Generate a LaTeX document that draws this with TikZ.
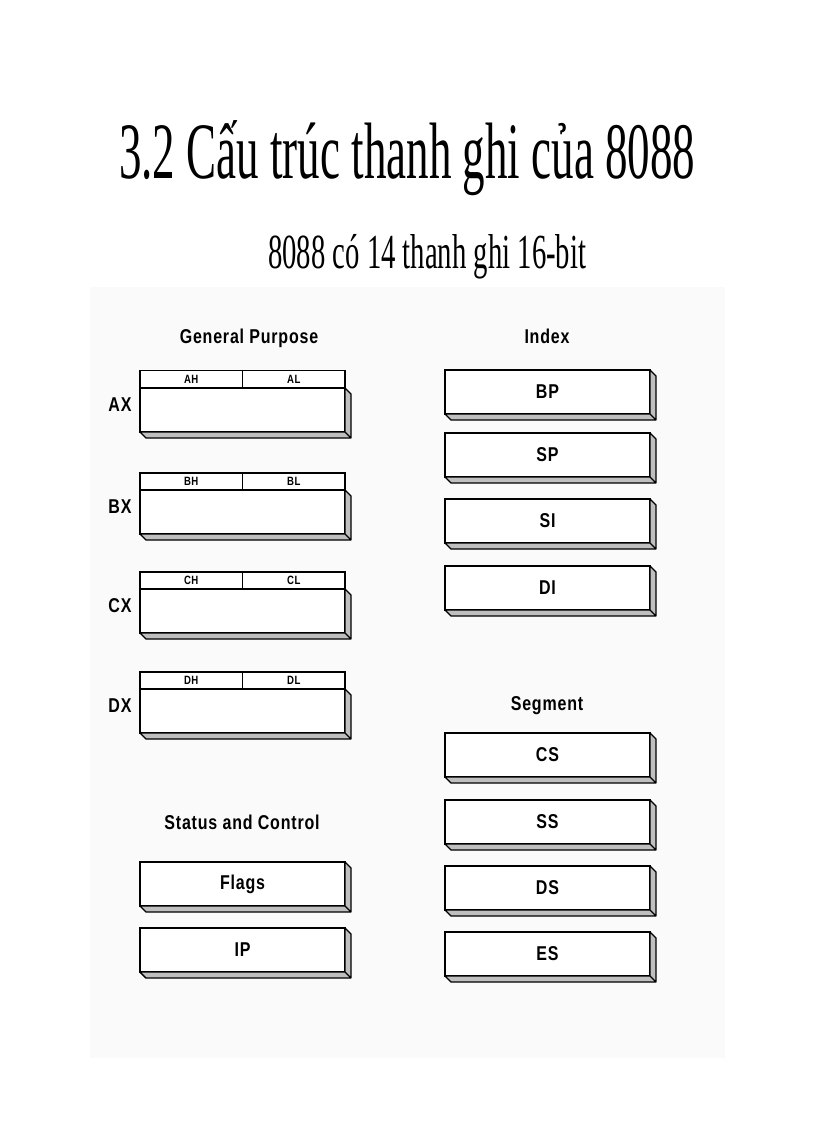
\documentclass[tikz,border=0pt]{standalone}
\usepackage{graphicx}
\usepackage{fontspec}
\setmainfont{Liberation Serif}
\newfontfamily\regfont[FakeStretch=0.8,LetterSpace=4]{Liberation Sans}

\tikzset{
  regbox/.style={draw, line width=1.8pt, fill=white, inner sep=0pt, outer sep=0pt,
    minimum width=205pt, minimum height=44pt,
    font=\regfont\bfseries\fontsize{20}{20}\selectfont},
  halfbox/.style={draw, line width=1.6pt, fill=white, inner sep=0pt, outer sep=0pt,
    minimum width=102.5pt, minimum height=17pt, text depth=0pt, yshift=0pt,
    font=\regfont\bfseries\fontsize{12}{12}\selectfont},
  regshade/.style={draw, line width=1.4pt, fill=black!25, line join=round},
  heading/.style={anchor=base, inner sep=0pt,
    font=\regfont\bfseries\fontsize{20}{20}\selectfont},
  reglabel/.style={anchor=base, inner sep=0pt,
    font=\regfont\bfseries\fontsize{20}{20}\selectfont}
}

\begin{document}
\begin{tikzpicture}[x=1pt, y=-1pt]
      \useasboundingbox (0,0) rectangle (816,1123);
      \fill[white] (0,0) rectangle (816,1123);

      % Title
      \node[anchor=base west, inner sep=0pt] (title) at (119,179)
        {\resizebox{576pt}{\height}{\fontsize{80}{80}\selectfont 3.2 Cấu trúc thanh ghi của 8088}};
      \node[anchor=base west, inner sep=0pt] (subtitle) at (268,268)
        {\resizebox{318pt}{\height}{\fontsize{49}{49}\selectfont 8088 có 14 thanh ghi 16-bit}};

      % Panel
      \fill[black!2] (90,287) rectangle (725,1058);

      % Headings
      \node[heading] (gp)  at (249, 343) {General Purpose};
      \node[heading] (idx) at (547, 343) {Index};
      \node[heading] (seg) at (547, 710) {Segment};
      \node[heading] (sc)  at (242, 829) {Status and Control};

      % General purpose registers
      \node[halfbox] (ah) at (191.25, 379)   {AH};
      \node[halfbox] (al) at (293.75, 379)   {AL};
      \node[regbox]  (ax) at (242.5, 410)    {};
      \node[reglabel] (axl) at (120, 411.5)  {AX};

      \node[halfbox] (bh) at (191.25, 481.5) {BH};
      \node[halfbox] (bl) at (293.75, 481.5) {BL};
      \node[regbox]  (bx) at (242.5, 512)    {};
      \node[reglabel] (bxl) at (120, 513.5)  {BX};

      \node[halfbox] (ch) at (191.25, 580.5) {CH};
      \node[halfbox] (cl) at (293.75, 580.5) {CL};
      \node[regbox]  (cx) at (242.5, 611)    {};
      \node[reglabel] (cxl) at (120, 612.5)  {CX};

      \node[halfbox] (dh) at (191.25, 680.5) {DH};
      \node[halfbox] (dl) at (293.75, 680.5) {DL};
      \node[regbox]  (dx) at (242.5, 711)    {};
      \node[reglabel] (dxl) at (120, 712.5)  {DX};

      % Status and control
      \node[regbox] (flags) at (242.5, 884) {Flags};
      \node[regbox] (ip)    at (242.5, 950) {IP};

      % Index registers
      \node[regbox] (bp) at (547.5, 392) {BP};
      \node[regbox] (sp) at (547.5, 455) {SP};
      \node[regbox] (si) at (547.5, 521) {SI};
      \node[regbox] (di) at (547.5, 588) {DI};

      % Segment registers
      \node[regbox] (cs) at (547.5, 755) {CS};
      \node[regbox] (ss) at (547.5, 822) {SS};
      \node[regbox] (ds) at (547.5, 888) {DS};
      \node[regbox] (es) at (547.5, 954) {ES};

      % Shaded sides
      \foreach \n in {ax,bx,cx,dx,flags,ip,bp,sp,si,di,cs,ss,ds,es}
        \draw[regshade] (\n.north east) -- ([shift={(6,6)}]\n.north east)
          -- ([shift={(6,6)}]\n.south east) -- ([shift={(6,6)}]\n.south west)
          -- (\n.south west) -- (\n.south east) -- cycle
          (\n.south east) -- ([shift={(6,6)}]\n.south east);
    \end{tikzpicture}
\end{document}
